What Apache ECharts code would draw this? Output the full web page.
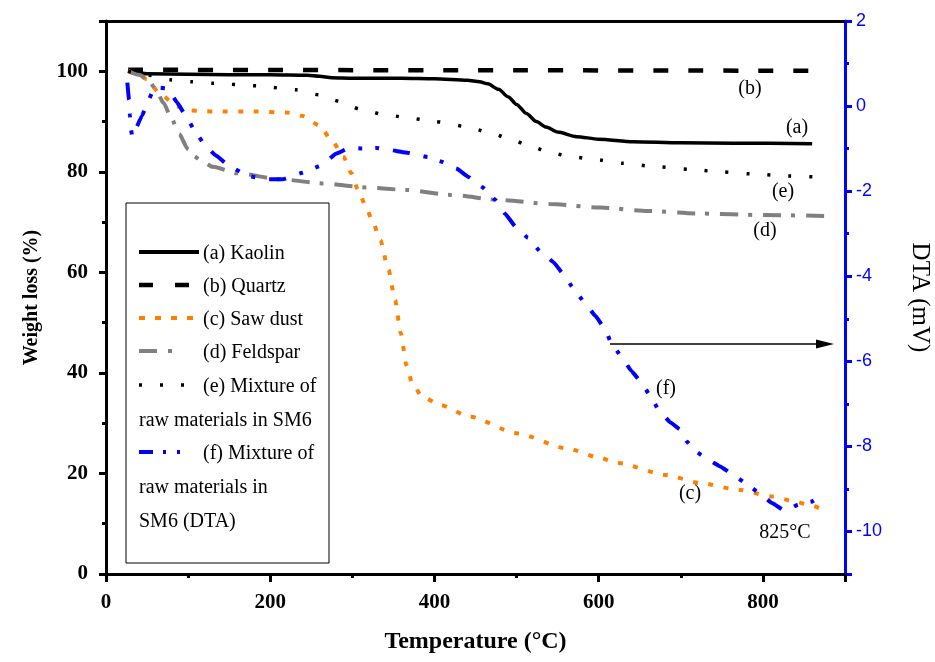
<!DOCTYPE html>
<html>
<head>
<meta charset="UTF-8">
<title>TGA / DTA</title>
<script src="https://cdn.jsdelivr.net/npm/echarts@6.0.0/dist/echarts.min.js"></script>
<style>
    html, body { margin: 0; padding: 0; background: #fff; }
    #chart { width: 935px; height: 662px; }
</style>
</head>
<body>
<div id="chart"></div>
<script>
// weight loss curves, [temperature, %]
const kaolin = [[27,100.1],[35,99.7],[50,99.5],[100,99.4],[150,99.3],[200,99.3],[245,99.2],[260,99.0],[275,98.7],[300,98.6],[360,98.6],[400,98.5],[440,98.2],[455,97.9],[465,97.5],[478,96.4],[490,94.9],[500,93.4],[512,91.6],[524,90.0],[536,88.9],[550,87.9],[573,87.0],[600,86.5],[642,86.0],[700,85.8],[764,85.7],[860,85.6]];
const quartz = [[27,100.3],[450,100.2],[860,100.1]];
const sawDust = [[27,100.1],[40,99.2],[50,98.4],[66,95.5],[86,93.0],[104,92.2],[130,92.0],[180,92.0],[220,91.8],[240,91.1],[260,89.2],[276,86.0],[289,83.0],[299,79.7],[307,76.4],[316,73.3],[325,70.0],[334,66.4],[344,60.5],[352,54.5],[359,47.9],[366,41.5],[373,37.9],[385,35.3],[407,33.6],[443,31.3],[500,28.0],[561,25.0],[600,23.2],[622,22.1],[683,19.7],[723,18.1],[772,16.7],[812,15.4],[837,14.5],[857,13.7],[877,12.4]];
const feldspar = [[27,100],[40,99.3],[51,98.5],[62,96.0],[70,93.7],[80,90.5],[89,87.5],[100,84.5],[106,83.2],[118,82.0],[130,81.0],[160,79.7],[213,78.5],[264,77.7],[317,76.9],[366,76.4],[420,75.4],[480,74.4],[540,73.6],[602,72.9],[660,72.2],[723,71.7],[800,71.4],[884,71.2]];
const mixtureSM6 = [[27,100],[50,99.3],[78,98.3],[104,97.9],[130,97.6],[184,97.1],[232,96.3],[260,95.3],[285,94.0],[309,92.5],[336,91.5],[362,90.9],[400,90.0],[439,89.0],[465,87.9],[490,86.7],[515,85.2],[541,83.8],[567,83.0],[593,82.5],[630,81.7],[670,81.0],[710,80.5],[748,80.0],[785,79.6],[825,79.2],[876,78.9]];
// DTA curve, [temperature, mV]
const dtaSM6 = [[26,0.55],[28,0.15],[29,-0.2],[30,-0.5],[32,-0.72],[44,-0.22],[51,0.1],[58,0.4],[66,0.43],[76,0.41],[86,0.1],[97,-0.22],[110,-0.65],[122,-0.95],[133,-1.15],[151,-1.42],[174,-1.65],[197,-1.72],[215,-1.72],[239,-1.57],[263,-1.39],[280,-1.12],[297,-0.98],[312,-1.0],[328,-0.98],[345,-1.03],[365,-1.09],[392,-1.2],[409,-1.31],[427,-1.47],[441,-1.66],[458,-1.9],[474,-2.2],[486,-2.53],[499,-2.84],[514,-3.1],[529,-3.42],[545,-3.67],[557,-3.95],[569,-4.28],[582,-4.6],[596,-4.93],[608,-5.25],[615,-5.56],[627,-5.87],[640,-6.23],[652,-6.5],[663,-6.82],[673,-7.14],[687,-7.43],[699,-7.6],[707,-7.88],[717,-8.1],[733,-8.31],[748,-8.47],[764,-8.67],[780,-8.88],[797,-9.12],[811,-9.33],[827,-9.52],[843,-9.37],[859,-9.3],[874,-9.12]];

const curveTags = ['(a)', '(b)', '(c)', '(d)', '(e)', '(f)'];
const legendText = [
    ['(a) Kaolin'],
    ['(b) Quartz'],
    ['(c) Saw dust'],
    ['(d) Feldspar'],
    ['(e) Mixture of', 'raw materials in SM6'],
    ['(f) Mixture of', 'raw materials in', 'SM6 (DTA)']
];
const peakNote = '825°C';

const SERIF = "'Liberation Serif','Times New Roman',serif";
const SANS = "'Liberation Sans',Arial,sans-serif";

const styles = [
    { color: '#000000', width: 3.5, dash: 'solid' },
    { color: '#000000', width: 4.5, dash: [15, 20] },
    { color: '#FF8000', width: 4, dash: [5, 10.5] },
    { color: '#808080', width: 4, dash: [18, 10, 4, 11] },
    { color: '#000000', width: 3.5, dash: [3, 18] },
    { color: '#0000FF', width: 4, dash: [17, 14, 4, 13, 4, 14] }
];
const seriesData = [kaolin, quartz, sawDust, feldspar, mixtureSM6, dtaSM6];

const chart = echarts.init(document.getElementById('chart'));

const series = seriesData.map(function (d, i) {
    return {
        name: legendText[i].join(' '),
        type: 'line',
        data: d,
        yAxisIndex: i === 5 ? 1 : 0,
        symbol: 'none',
        smooth: i === 5 ? 0.1 : 0.25,
        smoothMonotone: 'x',
        lineStyle: { color: styles[i].color, width: styles[i].width, type: styles[i].dash, cap: 'butt' },
        z: 2 + i
    };
});

// legend box
const graphic = [];
graphic.push({ type: 'rect', z: 100, shape: { x: 126, y: 203, width: 203, height: 360 },
    style: { fill: '#fff', stroke: '#000', lineWidth: 1 } });
const sampleY = [252, 285, 318, 351, 385, 452];
const sampleEnd = [199, 190, 194, 173, 184, 181];
const sampleDash = [null, [14, 22], [6, 10], [18, 11, 4, 100], [3, 18], [14, 10, 3, 11, 3, 100]];
const sampleWidth = [4, 4.5, 4, 4, 3.5, 4];
legendText.forEach(function (lines, i) {
    graphic.push({ type: 'line', z: 101, shape: { x1: 139, y1: sampleY[i], x2: sampleEnd[i], y2: sampleY[i] },
        style: { stroke: styles[i].color, lineWidth: sampleWidth[i], lineDash: sampleDash[i] } });
    lines.forEach(function (t, k) {
        graphic.push({ type: 'text', z: 101, x: k === 0 ? 203 : 139, y: sampleY[i] + 2 + k * 34,
            style: { text: t, fontSize: 20, fontFamily: SERIF, fill: '#000',
                align: 'left', textAlign: 'left', verticalAlign: 'middle', textVerticalAlign: 'middle' } });
    });
});

// curve tags
const tagPos = [[797, 128], [750, 89], [690, 494], [765, 231], [783, 192], [666, 389]];
curveTags.forEach(function (t, i) {
    graphic.push({ type: 'text', z: 50, x: tagPos[i][0], y: tagPos[i][1],
        style: { text: t, fontSize: 20, fontFamily: SERIF, fill: '#000',
            align: 'center', textAlign: 'center', verticalAlign: 'middle', textVerticalAlign: 'middle' } });
});
graphic.push({ type: 'text', z: 50, x: 785, y: 533,
    style: { text: peakNote, fontSize: 20, fontFamily: SERIF, fill: '#000',
        align: 'center', textAlign: 'center', verticalAlign: 'middle', textVerticalAlign: 'middle' } });

// arrow pointing to the DTA axis
graphic.push({ type: 'line', z: 50, shape: { x1: 610, y1: 344, x2: 822, y2: 344 },
    style: { stroke: '#000', lineWidth: 1.5 } });
graphic.push({ type: 'polygon', z: 50, shape: { points: [[816, 339.5], [834, 344], [816, 348.5]] },
    style: { fill: '#000' } });

const blackTick = { color: '#000', width: 3 };
const blueTick = { color: '#0000FF', width: 3 };

chart.setOption({
    animation: false,
    backgroundColor: '#fff',
    grid: { left: 106, right: 90, top: 21, bottom: 88, containLabel: false, outerBoundsMode: 'none' },
    xAxis: [{
        type: 'value', min: 0, max: 900, interval: 200, position: 'bottom',
        axisLine: { show: true, onZero: false, lineStyle: { color: '#000', width: 3 } },
        axisTick: { show: true, length: 8, lineStyle: blackTick },
        minorTick: { show: true, splitNumber: 2, length: 4, lineStyle: blackTick },
        splitLine: { show: false },
        axisLabel: { showMaxLabel: false, color: '#000', fontFamily: SERIF, fontWeight: 'bold', fontSize: 21, margin: 18 },
        name: 'Temperature (°C)', nameLocation: 'middle', nameGap: 56,
        nameTextStyle: { color: '#000', fontFamily: SERIF, fontWeight: 'bold', fontSize: 24 }
    }, {
        type: 'value', min: 0, max: 900, position: 'top',
        axisLine: { show: true, onZero: false, lineStyle: { color: '#000', width: 3 } },
        axisTick: { show: false }, axisLabel: { show: false }, splitLine: { show: false }
    }],
    yAxis: [{
        type: 'value', min: 0, max: 110, interval: 20, position: 'left',
        axisLine: { show: true, onZero: false, lineStyle: { color: '#000', width: 3 } },
        axisTick: { show: true, length: 7, lineStyle: blackTick },
        minorTick: { show: true, splitNumber: 2, length: 4, lineStyle: blackTick },
        splitLine: { show: false },
        axisLabel: { showMaxLabel: false, color: '#000', fontFamily: SERIF, fontWeight: 'bold', fontSize: 21, margin: 18 },
        name: 'Weight loss (%)', nameLocation: 'middle', nameGap: 64,
        nameTextStyle: { color: '#000', fontFamily: SERIF, fontWeight: 'bold', fontSize: 20 }
    }, {
        type: 'value', min: -11, max: 2, splitNumber: 6, position: 'right',
        axisLine: { show: true, onZero: false, lineStyle: { color: '#0000FF', width: 3 } },
        axisTick: { show: true, length: 7, lineStyle: blueTick },
        minorTick: { show: true, splitNumber: 2, length: 4, lineStyle: blueTick },
        splitLine: { show: false },
        axisLabel: { showMinLabel: false, color: '#0000FF', fontFamily: SANS, fontSize: 18, margin: 11 },
        name: 'DTA (mV)', nameLocation: 'middle', nameGap: 62, nameRotate: -90,
        nameTextStyle: { color: '#000', fontFamily: SERIF, fontSize: 25 }
    }],
    series: series,
    graphic: graphic
});
</script>
</body>
</html>
